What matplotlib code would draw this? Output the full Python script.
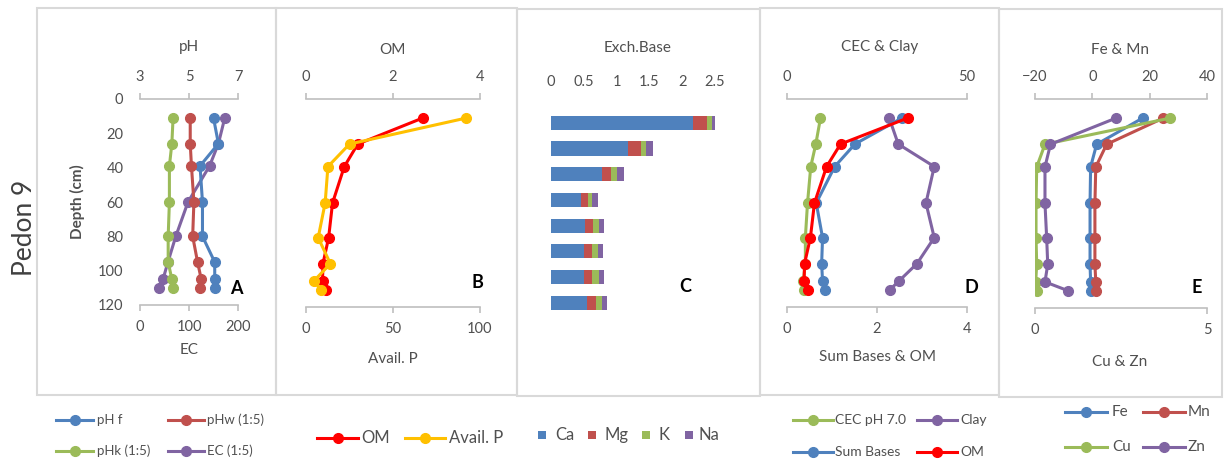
import matplotlib
matplotlib.use("Agg")
import matplotlib.pyplot as plt
from matplotlib.lines import Line2D
from matplotlib.patches import Rectangle

plt.rcParams['font.family'] = ['Lato', 'DejaVu Sans']

# ---------------- data ----------------
depth = [11, 26, 39, 60, 80, 95, 105, 110]

# Panel A
ph_f = [6.0, 6.2, 5.45, 5.55, 5.55, 6.05, 6.05, 6.05]
ph_w = [5.05, 5.05, 5.1, 5.2, 5.15, 5.35, 5.5, 5.45]
ph_k = [4.35, 4.3, 4.2, 4.2, 4.15, 4.15, 4.3, 4.35]
ec = [173, 160, 142, 98, 73, 57, 47, 38]

# Panel B
om = [2.68, 1.19, 0.88, 0.61, 0.52, 0.39, 0.38, 0.47]
avail_p = [92, 25, 12.6, 11, 7, 14, 4.5, 8.5]

# Panel C (exchangeable bases)
ca = [2.17, 1.17, 0.77, 0.46, 0.52, 0.51, 0.51, 0.55]
mg = [0.21, 0.20, 0.15, 0.11, 0.12, 0.12, 0.12, 0.13]
k = [0.08, 0.08, 0.09, 0.05, 0.09, 0.08, 0.10, 0.09]
na = [0.07, 0.10, 0.10, 0.09, 0.08, 0.09, 0.08, 0.08]

# Panel D
cec = [9.3, 8.0, 6.6, 5.7, 5.1, 5.1, 4.5, 4.7]
clay = [28.4, 30.9, 40.9, 38.6, 40.9, 36.1, 31.1, 28.6]
sum_bases = [2.55, 1.51, 1.06, 0.65, 0.79, 0.77, 0.79, 0.84]

# Panel E
fe = [17.5, 1.5, -0.6, -0.8, -0.8, -0.8, -0.6, -0.6]
mn = [24.7, 5.0, 1.2, 0.9, 0.9, 0.9, 1.2, 1.2]
cu = [3.92, 0.29, 0.05, 0.03, 0.03, 0.05, 0.02, 0.05]
zn = [2.35, 0.45, 0.29, 0.29, 0.34, 0.37, 0.29, 0.95]

# ---------------- style ----------------
BLUE = '#4F81BD'
RED = '#C0504D'
GREEN = '#9BBB59'
PURPLE = '#8064A2'
PURE_RED = '#FF0000'
GOLD = '#FFC000'
TXT = '#505050'
AXC = '#BFBFBF'
BOX = '#D9D9D9'
FS = 10.5
TFS = 11

W, H = 1226, 461
fig = plt.figure(figsize=(W / 100, H / 100), dpi=100)
fig.patch.set_facecolor('white')


def fx(x):
    return x / W


def fy(y):
    return 1 - y / H


def rect(l, t, r, b):
    return [l / W, 1 - b / H, (r - l) / W, (b - t) / H]


# panel frames
for (l, t, r, b) in [(37, 8, 276, 395), (276, 8, 517, 395), (517, 9, 760, 396),
                     (760, 8, 999, 395), (999, 9, 1222, 397)]:
    fig.add_artist(Rectangle((fx(l), fy(b)), (r - l) / W, (b - t) / H,
                             transform=fig.transFigure, fill=False,
                             ec=BOX, lw=1.5))


def line_panel(l, t, r, b, bot_lim, bot_ticks, top_lim, top_ticks):
    ax = fig.add_axes(rect(l, t, r, b))
    ax.set_ylim(120, 0)
    ax.set_xlim(*bot_lim)
    ax.set_xticks(bot_ticks)
    ax.patch.set_visible(False)
    for s in ['left', 'right', 'top']:
        ax.spines[s].set_visible(False)
    ax.spines['bottom'].set_color(AXC)
    ax.spines['bottom'].set_linewidth(1.2)
    ax.tick_params(axis='x', direction='out', length=4, width=1.2, color=AXC,
                   labelcolor=TXT, labelsize=FS, pad=7)
    ax.tick_params(axis='y', length=0, labelleft=False)
    ax2 = ax.twiny()
    ax2.set_xlim(*top_lim)
    ax2.set_xticks(top_ticks)
    for s in ['left', 'right', 'bottom']:
        ax2.spines[s].set_visible(False)
    ax2.spines['top'].set_color(AXC)
    ax2.spines['top'].set_linewidth(1.2)
    ax2.tick_params(axis='x', direction='out', length=4, width=1.2, color=AXC,
                    labelcolor=TXT, labelsize=FS, pad=7)
    return ax, ax2


LKW = dict(lw=2.2, marker='o', ms=7)

# ---------------- Panel A ----------------
axA, axA2 = line_panel(140, 99, 238, 305, (0, 200), [0, 100, 200], (3, 7), [3, 5, 7])
axA.set_yticks([0, 20, 40, 60, 80, 100, 120])
axA.tick_params(axis='y', length=0, labelleft=True, labelsize=FS, labelcolor=TXT, pad=12)
axA.plot(ec, depth, color=PURPLE, **LKW)
axA2.plot(ph_f, depth, color=BLUE, **LKW)
axA2.plot(ph_w, depth, color=RED, **LKW)
axA2.plot(ph_k, depth, color=GREEN, **LKW)
fig.text(fx(189), fy(47), 'pH', ha='center', va='center', fontsize=TFS, color=TXT)
fig.text(fx(189), fy(350), 'EC', ha='center', va='center', fontsize=TFS, color=TXT)
fig.text(fx(77), fy(202), 'Depth (cm)', ha='center', va='center', rotation=90,
         fontsize=TFS, color=TXT, fontweight='bold')
fig.text(fx(25), fy(228), 'Pedon 9', ha='center', va='center', rotation=90,
         fontsize=19, color='#404040')
fig.text(fx(236), fy(288), 'A', ha='center', va='center', fontsize=13,
         fontweight='bold', color='black')

# ---------------- Panel B ----------------
axB, axB2 = line_panel(306, 99, 480, 307, (0, 100), [0, 50, 100], (0, 4), [0, 2, 4])
axB2.plot(om, depth, color=PURE_RED, **LKW)
axB.plot(avail_p, depth, color=GOLD, **LKW)
axB.set_zorder(axB2.get_zorder() + 1)
fig.text(fx(392), fy(50), 'OM', ha='center', va='center', fontsize=TFS, color=TXT)
fig.text(fx(393), fy(359), 'Avail. P', ha='center', va='center', fontsize=TFS, color=TXT)
fig.text(fx(477), fy(283), 'B', ha='center', va='center', fontsize=13,
         fontweight='bold', color='black')

# ---------------- Panel C ----------------
axC = fig.add_axes(rect(551, 109.9, 715, 315.6))
axC.set_xlim(0, 2.5)
axC.set_ylim(7.5, -0.5)
pos = list(range(len(ca)))
left = [0.0] * len(ca)
for vals, col in [(ca, BLUE), (mg, RED), (k, GREEN), (na, PURPLE)]:
    axC.barh(pos, vals, left=left, height=0.55, color=col, edgecolor='none')
    left = [a + v for a, v in zip(left, vals)]
for s in axC.spines.values():
    s.set_visible(False)
axC.patch.set_visible(False)
axC.xaxis.tick_top()
axC.set_xticks([0, 0.5, 1, 1.5, 2, 2.5])
axC.set_xticklabels(['0', '0.5', '1', '1.5', '2', '2.5'])
axC.tick_params(axis='x', length=0, labelcolor=TXT, labelsize=FS, pad=15)
axC.set_yticks([])
fig.text(fx(638), fy(48), 'Exch.Base', ha='center', va='center', fontsize=TFS, color=TXT)
fig.text(fx(685), fy(286), 'C', ha='center', va='center', fontsize=13,
         fontweight='bold', color='black')

# ---------------- Panel D ----------------
axD, axD2 = line_panel(787, 99, 967, 307, (0, 4), [0, 2, 4], (0, 50), [0, 50])
axD2.plot(cec, depth, color=GREEN, **LKW)
axD2.plot(clay, depth, color=PURPLE, **LKW)
axD.plot(sum_bases, depth, color=BLUE, **LKW)
axD.plot(om, depth, color=PURE_RED, **LKW)
axD.set_zorder(axD2.get_zorder() + 1)
fig.text(fx(880), fy(47), 'CEC & Clay', ha='center', va='center', fontsize=TFS, color=TXT)
fig.text(fx(877), fy(357), 'Sum Bases & OM', ha='center', va='center', fontsize=TFS, color=TXT)
fig.text(fx(971), fy(287), 'D', ha='center', va='center', fontsize=13,
         fontweight='bold', color='black')

# ---------------- Panel E ----------------
axE, axE2 = line_panel(1035, 99, 1207, 308, (0, 5), [0, 5], (-20, 40), [-20, 0, 20, 40])
axE2.plot(fe, depth, color=BLUE, **LKW)
axE2.plot(mn, depth, color=RED, **LKW)
axE.plot(cu, depth, color=GREEN, **LKW)
axE.plot(zn, depth, color=PURPLE, **LKW)
axE.set_zorder(axE2.get_zorder() + 1)
fig.text(fx(1120), fy(50), 'Fe & Mn', ha='center', va='center', fontsize=TFS, color=TXT)
fig.text(fx(1120), fy(362), 'Cu & Zn', ha='center', va='center', fontsize=TFS, color=TXT)
fig.text(fx(1197), fy(287), 'E', ha='center', va='center', fontsize=13,
         fontweight='bold', color='black')


# ---------------- legends ----------------
def leg_line(x0, x1, y, color, label, tx, fs):
    fig.add_artist(Line2D([fx(x0), fx(x1)], [fy(y), fy(y)], transform=fig.transFigure,
                          color=color, lw=2.2))
    fig.add_artist(Line2D([fx((x0 + x1) / 2)], [fy(y)], transform=fig.transFigure,
                          color=color, marker='o', ms=7, lw=0))
    fig.text(fx(tx), fy(y), label, ha='left', va='center', fontsize=fs, color=TXT)


def leg_box(xc, y, color, label, tx, fs):
    fig.add_artist(Rectangle((fx(xc - 4), fy(y + 4)), 8 / W, 8 / H,
                             transform=fig.transFigure, color=color, lw=0))
    fig.text(fx(tx), fy(y), label, ha='left', va='center', fontsize=fs, color=TXT)


leg_line(56, 93, 420, BLUE, 'pH f', 97, 9.5)
leg_line(168, 204, 420, RED, 'pHw (1:5)', 207, 9.5)
leg_line(56, 93, 451, GREEN, 'pHk (1:5)', 97, 9.5)
leg_line(168, 204, 451, PURPLE, 'EC (1:5)', 207, 9.5)

leg_line(317, 358, 438, PURE_RED, 'OM', 361, 12)
leg_line(405, 445, 438, GOLD, 'Avail. P', 449, 12)

leg_box(542, 435, BLUE, 'Ca', 555, 12)
leg_box(592, 435, RED, 'Mg', 605, 12)
leg_box(646, 435, GREEN, 'K', 658, 12)
leg_box(689, 435, PURPLE, 'Na', 699, 12)

leg_line(793, 833, 420, GREEN, 'CEC pH 7.0', 835, 10)
leg_line(917, 957, 420, PURPLE, 'Clay', 960, 10)
leg_line(793, 833, 452, BLUE, 'Sum Bases', 835, 10)
leg_line(917, 957, 452, PURE_RED, 'OM', 960, 10)

leg_line(1065, 1107, 412, BLUE, 'Fe', 1112, 11)
leg_line(1143, 1185, 412, RED, 'Mn', 1188, 11)
leg_line(1065, 1107, 447, GREEN, 'Cu', 1112, 11)
leg_line(1143, 1185, 447, PURPLE, 'Zn', 1188, 11)

fig.savefig('out.png', dpi=100, facecolor='white')
